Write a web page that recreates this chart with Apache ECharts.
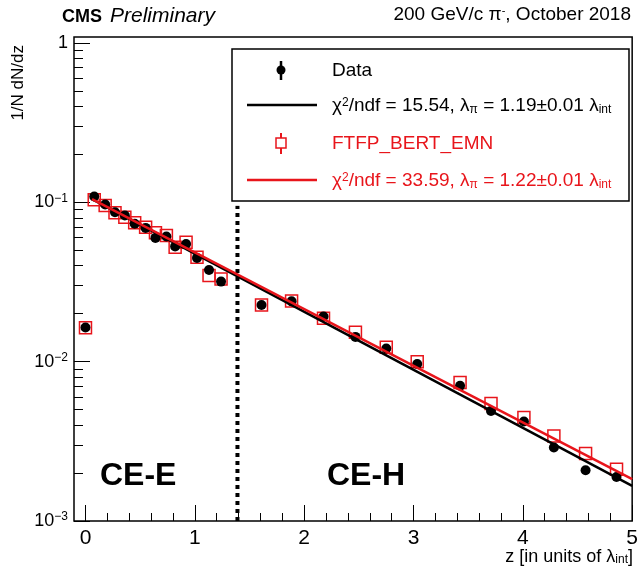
<!DOCTYPE html>
<html>
<head>
<meta charset="utf-8">
<script src="https://cdn.jsdelivr.net/npm/echarts@6.0.0/dist/echarts.min.js"></script>
<style>
html,body{margin:0;padding:0;background:#fff;}
#c{width:641px;height:571px;}
</style>
</head>
<body>
<div id="c"></div>
<script>
// ---- data ----
const dataZ = [0.0, 0.08, 0.18, 0.27, 0.36, 0.45, 0.55, 0.64, 0.74, 0.82, 0.92, 1.02, 1.13, 1.24,
               1.61, 1.885, 2.177, 2.469, 2.751, 3.034, 3.426, 3.709, 4.010, 4.284, 4.574, 4.857];
const dataVal = [0.0164, 0.1088, 0.0969, 0.0867, 0.0826, 0.0733, 0.0691, 0.0598, 0.0610, 0.0529, 0.0548, 0.0448, 0.0376, 0.0318,
                 0.0227, 0.0239, 0.0192, 0.0143, 0.0121, 0.00966, 0.00706, 0.00491, 0.00421, 0.00289, 0.00208, 0.00189];
const mcVal = [0.0163, 0.1037, 0.0955, 0.0859, 0.0806, 0.0743, 0.0698, 0.0643, 0.0618, 0.0522, 0.0561, 0.0452, 0.0347, 0.0330,
               0.0227, 0.0240, 0.0187, 0.0153, 0.0123, 0.0100, 0.0074, 0.00546, 0.00446, 0.00342, 0.00265, 0.00211];
// fit lines (exponential => straight on log axis): endpoints
const fitZ = [0.06, 5.0];
const fitDataVal = [0.1046, 0.00166];
const fitMcVal = [0.1047, 0.00183];
// CE-E / CE-H boundary
const boundaryZ = [1.39, 1.39];
const boundaryVal = [0.001, 0.095];
// ticks
const xMajorTicks = [0, 1, 2, 3, 4, 5];
const xMinorTicks = [0.2,0.4,0.6,0.8,1.2,1.4,1.6,1.8,2.2,2.4,2.6,2.8,3.2,3.4,3.6,3.8,4.2,4.4,4.6,4.8];
const yMajorTicks = [0.001, 0.01, 0.1, 1];
const yMinorTicks = [0.002,0.003,0.004,0.005,0.006,0.007,0.008,0.009,
                     0.02,0.03,0.04,0.05,0.06,0.07,0.08,0.09,
                     0.2,0.3,0.4,0.5,0.6,0.7,0.8,0.9];

const RED = '#e8151b';
const FONT = 'Liberation Sans, Arial, Helvetica, sans-serif';
const X_MIN = -0.105, X_MAX = 5.0, Y_MIN = 0.001, Y_MAX = 1.09;

const zip = (xs, ys) => xs.map((x, i) => [x, ys[i]]);

const chart = echarts.init(document.getElementById('c'), null, {renderer: 'canvas'});

const baseX = {type: 'value', min: X_MIN, max: X_MAX, position: 'bottom', splitLine: {show: false}, axisLine: {show: false, onZero: false}};
const baseY = {type: 'log', logBase: 10, min: Y_MIN, max: Y_MAX, position: 'left', splitLine: {show: false}, axisLine: {show: false, onZero: false}};

const option = {
  animation: false,
  backgroundColor: '#fff',
  grid: {left: 74, right: 7, top: 37, bottom: 50, show: true, borderColor: '#000', borderWidth: 1.5, backgroundColor: 'transparent'},
  xAxis: [
    Object.assign({}, baseX, {
      axisTick: {show: true, inside: true, length: 16, lineStyle: {color: '#000', width: 1}, customValues: xMajorTicks},
      axisLabel: {show: true, customValues: xMajorTicks, margin: 7, color: '#000', fontSize: 21, fontFamily: FONT}
    }),
    Object.assign({}, baseX, {
      axisTick: {show: true, inside: true, length: 8, lineStyle: {color: '#000', width: 1}, customValues: xMinorTicks},
      axisLabel: {show: false}
    })
  ],
  yAxis: [
    Object.assign({}, baseY, {
      axisTick: {show: true, inside: true, length: 16, lineStyle: {color: '#000', width: 1}, customValues: yMajorTicks},
      axisLabel: {
        show: true, customValues: yMajorTicks, margin: 6, color: '#000', fontFamily: FONT,
        formatter: function (v) {
          const e = Math.round(Math.log10(v));
          if (e === 0) return '{n|1}';
          return '{n|10}{s|\u2212' + (-e) + '}';
        },
        rich: {
          n: {fontSize: 18, fontFamily: FONT, color: '#000'},
          s: {fontSize: 12, fontFamily: FONT, color: '#000', verticalAlign: 'top', padding: [0, 0, 8, 0]}
        }
      }
    }),
    Object.assign({}, baseY, {
      axisTick: {show: true, inside: true, length: 9, lineStyle: {color: '#000', width: 1}, customValues: yMinorTicks},
      axisLabel: {show: false}
    })
  ],
  series: [
    {
      name: 'FTFP_BERT_EMN', type: 'scatter', xAxisIndex: 0, yAxisIndex: 0, z: 2,
      symbol: 'rect', symbolSize: 12,
      itemStyle: {color: 'rgba(255,255,255,0)', borderColor: RED, borderWidth: 1.5, opacity: 1},
      data: zip(dataZ, mcVal)
    },
    {
      name: 'Data', type: 'scatter', xAxisIndex: 0, yAxisIndex: 0, z: 3,
      symbol: 'circle', symbolSize: 10,
      itemStyle: {color: '#000', opacity: 1},
      data: zip(dataZ, dataVal)
    },
    {
      name: 'fitData', type: 'line', xAxisIndex: 0, yAxisIndex: 0, z: 4,
      showSymbol: false, symbol: 'none',
      lineStyle: {color: '#000', width: 2.5},
      data: zip(fitZ, fitDataVal)
    },
    {
      name: 'fitMC', type: 'line', xAxisIndex: 0, yAxisIndex: 0, z: 5,
      showSymbol: false, symbol: 'none',
      lineStyle: {color: RED, width: 2.5},
      data: zip(fitZ, fitMcVal)
    },
    {
      name: 'boundary', type: 'line', xAxisIndex: 0, yAxisIndex: 0, z: 1,
      showSymbol: false, symbol: 'none',
      lineStyle: {color: '#000', width: 4, type: [4, 4]},
      data: zip(boundaryZ, boundaryVal)
    }
  ],
  graphic: [
    // title
    {type: 'text', left: 62, top: 8, style: {text: 'CMS', font: 'bold 18px ' + FONT, fill: '#000'}},
    {type: 'text', left: 110, top: 6, style: {text: 'Preliminary', font: 'italic 21px ' + FONT, fill: '#000'}},
    {type: 'text', right: 10, top: 5, style: {
      text: '{t|200 GeV/c \u03c0}{s|-}{t|, October 2018}',
      rich: {t: {fontSize: 19, fontFamily: FONT, fill: '#000'}, s: {fontSize: 11, fontFamily: FONT, fill: '#000', verticalAlign: 'top'}}
    }},
    // axis titles
    {type: 'text', x: 633, y: 557, style: {
      text: '{t|z [in units of \u03bb}{b|int}{t|]}', align: 'right', verticalAlign: 'middle',
      rich: {t: {fontSize: 18, fontFamily: FONT, fill: '#000'}, b: {fontSize: 12, fontFamily: FONT, fill: '#000', verticalAlign: 'bottom'}}
    }},
    {type: 'text', x: 18, y: 45, rotation: Math.PI / 2, style: {
      text: '1/N dN/dz', align: 'right', verticalAlign: 'middle', font: '17px ' + FONT, fill: '#000'
    }},
    // region labels
    {type: 'text', x: 100, y: 476, style: {text: 'CE-E', font: 'bold 32px ' + FONT, fill: '#000', verticalAlign: 'middle'}},
    {type: 'text', x: 327, y: 476, style: {text: 'CE-H', font: 'bold 32px ' + FONT, fill: '#000', verticalAlign: 'middle'}},
    // legend
    {type: 'rect', z: 10, shape: {x: 232, y: 49, width: 397, height: 152}, style: {fill: '#fff', stroke: '#000', lineWidth: 1.5}},
    {type: 'line', z: 11, shape: {x1: 281, y1: 61, x2: 281, y2: 80}, style: {stroke: '#000', lineWidth: 2.5}},
    {type: 'circle', z: 11, shape: {cx: 281, cy: 70, r: 4.5}, style: {fill: '#000'}},
    {type: 'text', z: 11, x: 332, y: 71, style: {text: 'Data', font: '19px ' + FONT, fill: '#000', verticalAlign: 'middle'}},
    {type: 'line', z: 11, shape: {x1: 247, y1: 105, x2: 317, y2: 105}, style: {stroke: '#000', lineWidth: 2.5}},
    {type: 'text', z: 11, x: 332, y: 106, style: {
      text: '{t|\u03c7}{p|2}{t|/ndf = 15.54, \u03bb}{b|\u03c0}{t| = 1.19\u00b10.01 \u03bb}{b|int}', verticalAlign: 'middle',
      rich: {t: {fontSize: 19, fontFamily: FONT, fill: '#000'}, p: {fontSize: 12, fontFamily: FONT, fill: '#000', verticalAlign: 'top'}, b: {fontSize: 12, fontFamily: FONT, fill: '#000', verticalAlign: 'bottom'}}
    }},
    {type: 'line', z: 11, shape: {x1: 281, y1: 133, x2: 281, y2: 154}, style: {stroke: RED, lineWidth: 2}},
    {type: 'rect', z: 12, shape: {x: 276, y: 138, width: 10, height: 10}, style: {fill: '#fff', stroke: RED, lineWidth: 1.5}},
    {type: 'text', z: 11, x: 332, y: 144, style: {text: 'FTFP_BERT_EMN', font: '19px ' + FONT, fill: RED, verticalAlign: 'middle'}},
    {type: 'line', z: 11, shape: {x1: 247, y1: 180, x2: 317, y2: 180}, style: {stroke: RED, lineWidth: 2.5}},
    {type: 'text', z: 11, x: 332, y: 181, style: {
      text: '{t|\u03c7}{p|2}{t|/ndf = 33.59, \u03bb}{b|\u03c0}{t| = 1.22\u00b10.01 \u03bb}{b|int}', verticalAlign: 'middle',
      rich: {t: {fontSize: 19, fontFamily: FONT, fill: RED}, p: {fontSize: 12, fontFamily: FONT, fill: RED, verticalAlign: 'top'}, b: {fontSize: 12, fontFamily: FONT, fill: RED, verticalAlign: 'bottom'}}
    }}
  ]
};
chart.setOption(option);
</script>
</body>
</html>
